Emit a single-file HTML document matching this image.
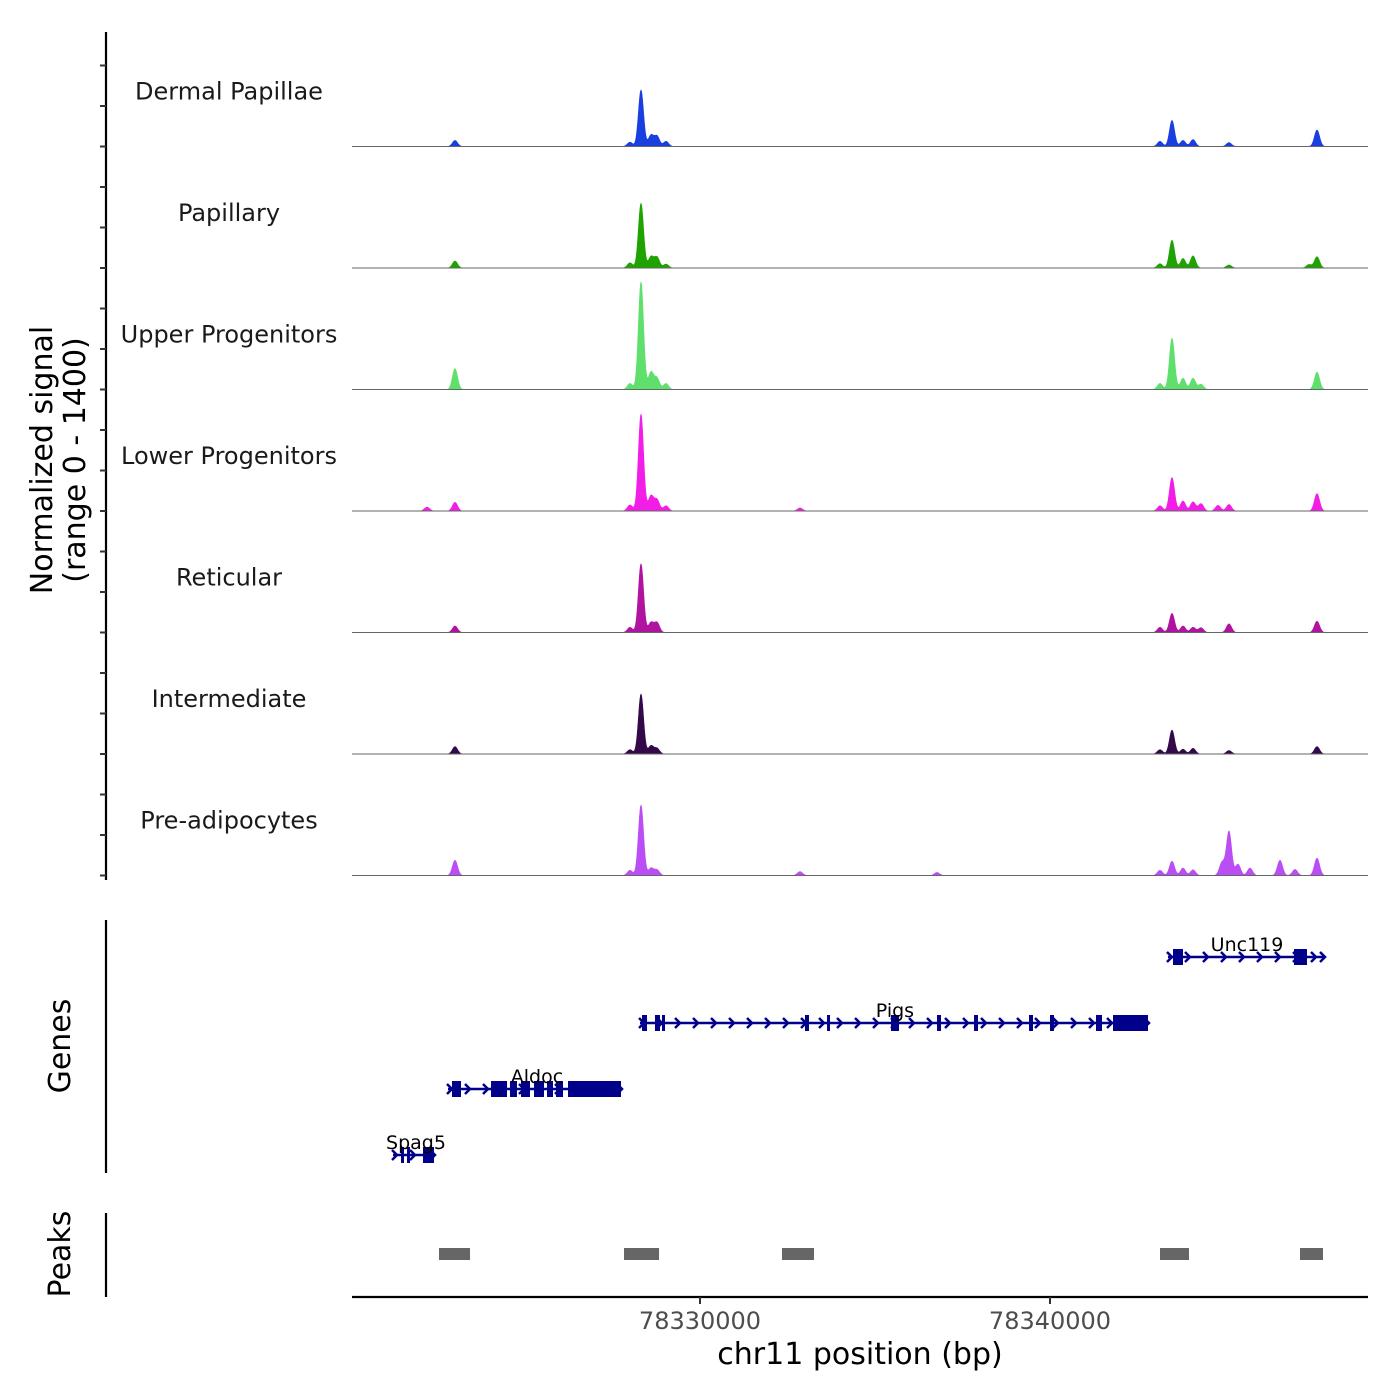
<!DOCTYPE html>
<html><head><meta charset="utf-8"><style>
html,body{margin:0;padding:0;background:#fff;}
svg{display:block;font-family:"DejaVu Sans","Liberation Sans",sans-serif;}
</style></head><body>
<svg id="chart" width="1400" height="1400" viewBox="0 0 1400 1400" xmlns="http://www.w3.org/2000/svg">
<rect width="1400" height="1400" fill="#fff"/>
<g id="tracks"></g><g id="genes"></g><g id="peaks"></g>
<line x1="106" y1="32" x2="106" y2="880" stroke="#000" stroke-width="2.2"/>
<g id="yticks"></g>
<text transform="translate(52,460) rotate(-90)" text-anchor="middle" font-size="30" fill="#000">Normalized signal</text>
<text transform="translate(85,460) rotate(-90)" text-anchor="middle" font-size="30" fill="#000">(range 0 - 1400)</text>
<line x1="106" y1="920" x2="106" y2="1173" stroke="#000" stroke-width="2.2"/>
<text transform="translate(70,1046) rotate(-90)" text-anchor="middle" font-size="30">Genes</text>
<line x1="106" y1="1213" x2="106" y2="1297" stroke="#000" stroke-width="2.2"/>
<text transform="translate(70,1254) rotate(-90)" text-anchor="middle" font-size="30">Peaks</text>
<line x1="352" y1="1297" x2="1368" y2="1297" stroke="#000" stroke-width="2.2"/>
<g id="xticks"></g>
<text x="860" y="1364" text-anchor="middle" font-size="30">chr11 position (bp)</text>
</svg>
<script>
const trackNames = ["Dermal Papillae","Papillary","Upper Progenitors","Lower Progenitors","Reticular","Intermediate","Pre-adipocytes"];
const trackColors = ["#1a3fe0","#1ea300","#5fe06d","#f21ee8","#b0139f","#33094a","#bb4df5"];
const peakPos = {
 "Dermal Papillae":[78323000,78328000,78328314,78328600,78328771,78329029,78343143,78343486,78343800,78344086,78345114,78347629],
 "Papillary":[78323000,78328000,78328314,78328600,78328771,78329029,78343143,78343486,78343800,78344086,78345114,78347400,78347629],
 "Upper Progenitors":[78323000,78328000,78328314,78328600,78328771,78329029,78343143,78343486,78343800,78344086,78344314,78347629],
 "Lower Progenitors":[78322200,78323000,78328000,78328314,78328600,78328771,78329029,78332857,78343143,78343486,78343800,78344086,78344314,78344800,78345114,78347629],
 "Reticular":[78323000,78328000,78328314,78328600,78328771,78343143,78343486,78343800,78344086,78344314,78345114,78347629],
 "Intermediate":[78323000,78328000,78328314,78328600,78328771,78343143,78343486,78343800,78344086,78345114,78347629],
 "Pre-adipocytes":[78323000,78328000,78328314,78328600,78328771,78332857,78336771,78343143,78343486,78343800,78344086,78344914,78345114,78345371,78345714,78346571,78347000,78347629]
};
const peakSignal = {
 "Dermal Papillae":[70,50,650,130,120,60,60,300,70,80,45,190],
 "Papillary":[80,60,745,130,125,45,50,320,110,140,35,40,130],
 "Upper Progenitors":[240,70,1240,200,130,70,70,590,130,130,60,200],
 "Lower Progenitors":[45,100,70,1115,175,130,60,35,60,385,115,105,85,65,75,200],
 "Reticular":[75,60,790,115,115,60,220,75,60,55,100,130],
 "Intermediate":[85,50,690,95,65,50,275,55,65,40,85],
 "Pre-adipocytes":[175,60,810,85,65,45,35,60,165,85,65,150,510,130,85,175,70,200]
};
const xTicks = [78330000, 78340000];
const genes = [
 {name:"Unc119",start:78343371,end:78347829,row:0,exons:[[78343514,78343800],[78346971,78347343]],labelX:78345629},
 {name:"Pigs",start:78328286,end:78342800,row:1,exons:[[78328343,78328486],[78328714,78328857],[78328914,78329000],[78333000,78333114],[78333629,78333714],[78335457,78335686],[78336771,78336886],[78337829,78337943],[78339400,78339514],[78340000,78340114],[78341314,78341486],[78341800,78342800]],labelX:78335570},
 {name:"Aldoc",start:78322800,end:78327743,row:2,exons:[[78322914,78323171],[78324029,78324486],[78324571,78324771],[78324886,78325143],[78325257,78325543],[78325629,78325800],[78325886,78326086],[78326229,78327743]],labelX:78325343},
 {name:"Spag5",start:78321229,end:78322400,row:3,exons:[[78321457,78321514],[78321629,78321686],[78322086,78322400]],labelX:78321886}
];
const peakStarts = [78322543,78327829,78332343,78343143,78347143];
const peakEnds = [78323429,78328829,78333257,78343971,78347800];

const NS="http://www.w3.org/2000/svg";
const X0=78330000, PX0=700, PXPERBP=35/1000;
function xs(bp){return PX0+(bp-X0)*PXPERBP;}
const trackH=121.5, firstBase=146.5, sigMax=1400;
function mk(tag,attrs,parent){const e=document.createElementNS(NS,tag);for(const k in attrs)e.setAttribute(k,attrs[k]);parent.appendChild(e);return e;}

const tg=document.getElementById('tracks');
trackNames.forEach((nm,i)=>{
 const base=firstBase+i*trackH;
 const g=mk('g',{},tg);
 
 
 const lab=mk('text',{x:229,y:base-47,'text-anchor':'middle','font-size':'24',fill:'#1a1a1a'},g);
 lab.textContent=nm;
 
 
 const pos=peakPos[nm], sig=peakSignal[nm];
 let d='M352,'+base;
 for(let px=352;px<=1368;px+=0.5){
  let v=0;
  for(let k=0;k<pos.length;k++){
   const dx=(px-xs(pos[k]));
   const w=2.6;
   v+=sig[k]*Math.exp(-dx*dx/(2*w*w));
  }
  const y=base-Math.min(v,sigMax)/sigMax*trackH;
  d+=' L'+px+','+y.toFixed(2);
 }
 d+=' L1368,'+base+' Z';
 const p=mk('path',{d:d,fill:trackColors[i],stroke:trackColors[i],'stroke-width':'0.6'},g);
 
 
 const bl=mk('line',{x1:352,y1:base,x2:1368,y2:base,stroke:'#666','stroke-width':'1'},g);
 
 
});
const yt=document.getElementById('yticks');
for(let y=firstBase-trackH;y<=firstBase+6*trackH+1;y+=trackH/3){
 if(y<40)continue;
 const t=mk('line',{x1:100,y1:y.toFixed(1),x2:106,y2:y.toFixed(1),stroke:'#333','stroke-width':'2'},yt);
 
 
}
const gg=document.getElementById('genes');
const rowY=[957,1023,1089,1155], col='#00008b';
genes.forEach(gn=>{
 const y=rowY[gn.row];
 const g=mk('g',{},gg);
 
 
 const x1=xs(gn.start), x2=xs(gn.end);
 mk('line',{x1:x1,y1:y,x2:x2,y2:y,stroke:col,'stroke-width':'2.5'},g);
 for(let ax=x1+2;ax<=x2-2;ax+=18){
  mk('path',{d:`M${ax-3},${y-5} L${ax+2},${y} L${ax-3},${y+5}`,fill:'none',stroke:col,'stroke-width':'2.5'},g);
 }
 mk('path',{d:`M${x2-4},${y-5} L${x2+1},${y} L${x2-4},${y+5}`,fill:'none',stroke:col,'stroke-width':'2.5'},g);
 gn.exons.forEach(ex=>{
  const a=xs(ex[0]),b=xs(ex[1]);
  const r=mk('rect',{x:a,y:y-8,width:Math.max(b-a,3),height:16,fill:col},g);
  
  
 });
 const t=mk('text',{x:xs(gn.labelX),y:y-6,'text-anchor':'middle','font-size':'19',fill:'#000'},g);
 t.textContent=gn.name;
 
 
});
const pg=document.getElementById('peaks');
peakStarts.forEach((s,i)=>{
 const r=mk('rect',{x:xs(s),y:1248,width:xs(peakEnds[i])-xs(s),height:12,fill:'#666'},pg);
 
 
});
const xt=document.getElementById('xticks');
xTicks.forEach(v=>{
 const x=xs(v);
 const l=mk('line',{x1:x,y1:1297,x2:x,y2:1304,stroke:'#333','stroke-width':'2'},xt);
 
 
 const t=mk('text',{x:x,y:1329,'text-anchor':'middle','font-size':'24',fill:'#4d4d4d'},xt);
 t.textContent=v;
 
 
});
</script>
</body></html>
